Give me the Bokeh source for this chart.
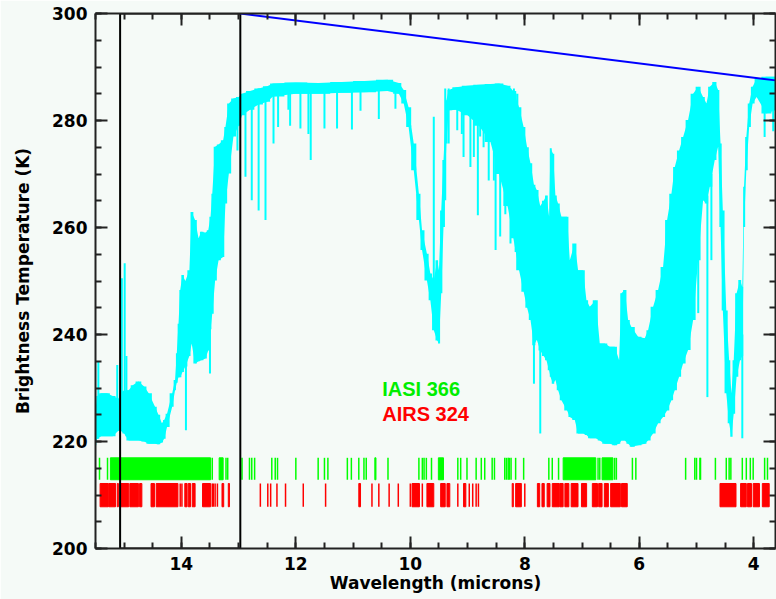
import numpy as np
from bokeh.plotting import figure
from bokeh.models import Range1d, LinearAxis, FixedTicker
from bokeh.core.properties import value
from bokeh.embed import file_html
from bokeh.resources import INLINE

# ---------------- data ----------------
# spectrum envelope: wavelength (microns), upper / lower brightness temperature (K)
spec_wl = [15.50, 15.47, 15.40, 15.30, 15.20, 15.10, 15.06, 15.00, 14.92, 14.85, 14.75, 14.65,
           14.57, 14.46, 14.40, 14.34, 14.30, 14.25, 14.16, 14.11, 14.08, 14.05, 14.02, 13.98,
           13.93, 13.86, 13.82, 13.76, 13.70, 13.65, 13.58, 13.53, 13.49, 13.46, 13.41, 13.35,
           13.27, 13.23, 13.17, 13.09, 13.00, 12.94, 12.80, 12.65, 12.50, 12.40, 12.00, 11.60,
           11.20, 10.80, 10.40, 10.20, 10.115, 10.03, 9.94, 9.85, 9.795, 9.71, 9.65, 9.59,
           9.53, 9.50, 9.46, 9.42, 9.37, 9.33, 9.20, 9.00, 8.80, 8.60, 8.45, 8.30,
           8.20, 8.10, 8.02, 7.96, 7.90, 7.84, 7.79, 7.73, 7.67,
           7.622, 7.575, 7.552, 7.506, 7.465, 7.418, 7.360, 7.261, 7.214, 7.127, 7.069, 6.981,
           6.923, 6.865, 6.760, 6.690, 6.603, 6.515, 6.428, 6.352, 6.312, 6.253, 6.195, 6.137,
           6.020, 5.904, 5.846, 5.758, 5.671, 5.584, 5.514, 5.438, 5.380, 5.304, 5.234, 5.147,
           5.059, 4.972, 4.885, 4.826, 4.768, 4.681, 4.622,
           4.58, 4.54, 4.48, 4.43, 4.39, 4.35, 4.30, 4.24, 4.20,
           4.17, 4.13, 4.08, 4.02, 3.95, 3.78, 3.60]
spec_hi = [226.0, 228.5, 229.0, 229.0, 228.5, 228.0, 229.0, 229.5, 229.6, 230.5, 231.2, 230.3,
           229.0, 226.5, 225.0, 223.4, 224.0, 225.2, 229.0, 231.5, 236.5, 242.0, 248.3, 251.1,
           250.0, 252.0, 262.9, 261.4, 258.0, 259.2, 259.0, 259.5, 262.0, 266.3, 275.1, 275.5,
           276.3, 278.8, 283.2, 284.1, 284.4, 285.0, 285.5, 286.0, 286.4, 286.9, 287.1, 287.0,
           287.2, 287.4, 287.6, 287.0, 285.7, 282.5, 275.7, 266.3, 259.5, 255.1, 251.4, 250.2,
           253.9, 252.0, 263.2, 272.6, 283.8, 285.7, 286.2, 286.5, 286.7, 286.8, 286.9, 286.5,
           285.5, 282.5, 278.8, 275.0, 272.0, 268.0, 267.0, 264.0, 265.0,
           266.0, 262.0, 274.8, 273.8, 266.0, 264.5, 262.0, 262.0, 253.9, 257.0, 252.0, 252.0,
           246.4, 245.2, 246.4, 238.3, 238.3, 237.7, 237.7, 235.2, 247.7, 248.3, 242.7, 241.4,
           239.6, 239.3, 240.8, 245.2, 248.3, 252.6, 261.4, 266.3, 271.3, 274.4, 276.9, 280.1,
           285.0, 286.3, 284.4, 283.2, 286.3, 287.2, 285.7,
           275.7, 263.2, 244.5, 235.2, 229.0, 235.2, 247.7, 250.2, 248.9,
           267.6, 276.9, 283.2, 286.3, 287.8, 288.2, 288.2]
spec_lo = [219.3, 220.5, 221.0, 221.0, 221.0, 222.0, 222.0, 221.5, 220.2, 220.2, 220.2, 220.0,
           219.6, 219.6, 219.5, 219.8, 220.5, 222.7, 226.5, 229.6, 231.0, 232.0, 232.0, 233.0,
           234.0, 236.0, 238.3, 234.6, 235.0, 235.2, 235.5, 237.0, 241.0, 243.9, 250.1, 253.9,
           254.5, 264.5, 270.1, 277.0, 279.0, 281.0, 282.0, 283.0, 283.5, 284.5, 285.0, 285.0,
           285.2, 285.3, 285.5, 285.0, 283.2, 278.8, 270.7, 261.4, 255.8, 250.1, 246.4, 240.8,
           238.9, 238.3, 247.7, 260.1, 275.7, 281.9, 282.0, 281.0, 279.0, 276.0, 270.0, 264.0,
           258.0, 252.0, 248.0, 245.0, 242.7, 238.0, 239.0, 237.0, 236.0,
           235.2, 233.3, 232.1, 230.8, 231.5, 229.6, 227.7, 225.8, 224.6, 224.0, 221.5, 221.5,
           221.2, 220.6, 220.6, 220.2, 219.6, 219.6, 219.3, 219.6, 220.2, 220.2, 219.6, 219.0,
           219.3, 219.6, 220.2, 221.5, 223.4, 224.6, 225.8, 227.7, 229.6, 232.1, 234.6, 237.1,
           242.7, 253.9, 265.1, 264.5, 267.6, 272.6, 275.1,
           260.1, 244.5, 229.0, 223.4, 220.9, 225.2, 232.1, 235.2, 236.0,
           260.1, 270.7, 278.8, 283.2, 284.4, 281.3, 282.0]

# single-channel spikes: wavelength, bottom, top (K)
spike_wl = [15.45, 15.12, 15.04, 14.99, 14.96, 13.92, 13.50, 13.02, 12.88, 12.77, 12.65, 12.53,
            12.39, 12.31, 12.13, 12.10, 11.92, 11.78, 11.74, 11.50, 11.28, 11.02, 10.87, 10.55,
            10.26, 9.59, 9.39, 9.33, 9.18, 9.10, 9.07, 8.95, 8.89, 8.82, 8.78, 8.72,
            8.63, 8.54, 8.51, 8.43, 8.34, 8.28, 8.25, 8.19, 8.16, 8.13, 7.84, 7.73,
            4.97, 4.81, 4.74, 4.20, 3.81, 3.66]
spike_bot = [221.0, 222.0, 222.0, 222.0, 221.0, 222.1, 232.7, 274.4, 269.5, 265.1, 263.2, 261.4,
             275.7, 278.8, 282.0, 279.0, 278.5, 277.5, 272.6, 278.5, 278.5, 278.3, 281.8, 280.3,
             282.2, 245.0, 265.1, 275.7, 278.2, 277.5, 273.2, 271.3, 273.2, 262.3, 277.0, 275.0,
             268.8, 268.8, 255.8, 258.3, 262.5, 263.8, 257.0, 262.0, 255.4, 263.0, 230.8, 221.5,
             244.0, 228.3, 253.9, 220.6, 276.9, 278.0]
spike_top = [235.0, 234.3, 250.5, 253.3, 236.0, 240.0, 245.0, 284.0, 285.0, 285.0, 286.0, 286.0,
             286.0, 286.5, 287.0, 287.0, 287.0, 287.0, 287.0, 287.0, 287.0, 287.0, 287.0, 287.0,
             287.0, 280.7, 286.0, 286.0, 286.0, 286.0, 286.0, 286.0, 286.0, 286.0, 286.0, 286.0,
             286.0, 286.0, 286.0, 286.0, 286.0, 286.0, 286.0, 286.0, 285.0, 285.0, 240.0, 240.0,
             260.0, 266.0, 270.0, 240.0, 285.0, 285.0]

# selected channels (wavelength, microns)
iasi_band_start = [15.24, 13.34, 10.62, 9.51, 7.33, 6.65]
iasi_band_end = [13.49, 13.27, 10.60, 9.42, 6.76, 6.46]
iasi_lines = [15.43, 15.29, 13.46, 13.22, 13.19, 12.94, 12.81, 12.77, 12.72, 12.42, 12.36, 12.32,
              12.00, 11.61, 11.50, 11.44, 11.10, 11.03, 10.90, 10.81, 10.77, 10.39, 9.85, 9.79,
              9.76, 9.72, 9.63, 9.17, 9.12, 9.01, 8.85, 8.76, 8.70, 8.57, 8.53, 8.35,
              8.32, 8.29, 8.27, 8.24, 8.16, 8.02, 7.58, 7.52, 7.41, 6.72, 6.69, 6.43,
              6.40, 6.12, 6.06, 5.19, 5.03, 5.00, 4.94, 4.93, 4.67, 4.48, 4.43, 4.40,
              4.20, 4.13, 4.06, 4.01, 3.81, 3.76]
airs_band_start = [15.42, 15.27, 15.12, 15.07, 14.90, 14.73, 14.53, 14.44, 13.94, 13.88, 13.81,
                   13.63, 13.29, 13.18, 10.90, 9.97, 9.71, 9.47, 9.36, 9.07, 8.22, 8.16,
                   7.78, 7.70, 7.61, 7.52, 7.39, 7.30, 7.19, 7.01, 6.82, 6.71, 6.61,
                   6.50, 6.31, 4.59, 4.23, 4.11, 4.01, 3.85]
airs_band_end = [15.28, 15.15, 15.10, 14.92, 14.75, 14.69, 14.47, 14.06, 13.90, 13.84, 13.76,
                 13.49, 13.26, 13.16, 10.87, 9.84, 9.59, 9.39, 9.31, 9.03, 8.20, 8.06,
                 7.74, 7.66, 7.56, 7.40, 7.33, 7.23, 7.07, 6.92, 6.73, 6.65, 6.54,
                 6.33, 6.21, 4.31, 4.13, 4.04, 3.90, 3.73]
airs_lines = [14.02, 13.99, 13.46, 13.44, 13.41, 13.37, 12.62, 12.49, 12.44, 12.33, 12.18, 11.87,
              11.48, 10.67, 10.55, 10.37, 10.21, 10.00, 9.79, 9.17, 8.97, 8.91, 8.85, 8.81, 8.00]

# rows of the channel marks (K)
iasi_row = [212.85, 216.95]
airs_row = [207.8, 212.15]

label_text = ["IASI 366", "AIRS 324"]
label_x = [10.49, 10.49]
label_y = [229.9, 225.2]
label_color = ["#00ee00", "#ff0000"]

# zoom box (wavelength / K) and connector line
box_wl = [15.07, 12.97]
box_bt = [200.0, 300.0]
conn1_wl = [12.97, 3.62]
conn1_bt = [300.0, 287.5]

x_major = [4, 6, 8, 10, 12, 14]
y_major = [200, 220, 240, 260, 280, 300]

# ---------------- figure ----------------
BG = "#f5faf7"
FONT = "DejaVu Sans"
CYAN = "#00ffff"

p = figure(width=776, height=599, output_backend="svg", toolbar_location=None,
           x_range=Range1d(15.5, 3.62), y_range=Range1d(200, 300),
           min_border_left=95, min_border_right=1, min_border_top=13, min_border_bottom=51,
           background_fill_color=BG, border_fill_color=BG, outline_line_color=None)
p.xgrid.visible = False
p.ygrid.visible = False

# spectrum: smooth envelope plus channel-step envelope
p.varea(x=spec_wl, y1=spec_lo, y2=spec_hi, fill_color=CYAN)
if hasattr(p, "varea_step"):
    p.varea_step(x=spec_wl, y1=spec_lo, y2=spec_hi, step_mode="center", fill_color=CYAN)
p.segment(x0=spike_wl, y0=spike_bot, x1=spike_wl, y1=spike_top, line_color=CYAN, line_width=2)

# channel marks
p.quad(left=iasi_band_start, right=iasi_band_end, bottom=iasi_row[0], top=iasi_row[1],
       fill_color="#00ff00", line_color="#00ff00", line_width=1)
p.segment(x0=iasi_lines, y0=iasi_row[0], x1=iasi_lines, y1=iasi_row[1], line_color="#00ff00", line_width=1.5)
p.quad(left=airs_band_start, right=airs_band_end, bottom=airs_row[0], top=airs_row[1],
       fill_color="#ff0000", line_color="#ff0000", line_width=1)
p.segment(x0=airs_lines, y0=airs_row[0], x1=airs_lines, y1=airs_row[1], line_color="#ff0000", line_width=1.5)

# labels
p.text(x=label_x, y=label_y, text=label_text, text_color=label_color,
       text_font=value("Liberation Sans"), text_font_style="bold", text_font_size="20px",
       text_baseline="alphabetic", text_align="left")

# zoom box and connector line
p.quad(left=box_wl[0], right=box_wl[1], bottom=box_bt[0], top=box_bt[1],
       fill_alpha=0, line_color="black", line_width=2)
p.line(x=conn1_wl, y=conn1_bt, line_color="#0000ff", line_width=2)

# axes
def style(ax, labels=True):
    ax.axis_line_color = "#222222"
    ax.axis_line_width = 2
    ax.major_tick_line_color = "#222222"
    ax.minor_tick_line_color = "#222222"
    ax.major_tick_line_width = 2
    ax.minor_tick_line_width = 2
    ax.major_tick_in = 12
    ax.major_tick_out = 0
    ax.minor_tick_in = 6
    ax.minor_tick_out = 0
    if labels:
        ax.major_label_text_font = FONT
        ax.major_label_text_font_style = "bold"
        ax.major_label_text_font_size = "17px"
        ax.major_label_text_color = "black"
        ax.major_label_standoff = 8
        ax.axis_label_text_font = FONT
        ax.axis_label_text_font_style = "bold"
        ax.axis_label_text_font_size = "17px"
        ax.axis_label_text_color = "black"
    else:
        ax.major_label_standoff = 0

xt = FixedTicker(ticks=x_major, minor_ticks=list(np.arange(3.5, 15.51, 0.5)))
yt = FixedTicker(ticks=y_major, minor_ticks=list(range(200, 301, 5)))

xax = p.xaxis[0]
yax = p.yaxis[0]
xax.ticker = xt
yax.ticker = yt
xax.axis_label = "Wavelength (microns)"
yax.axis_label = "Brightness Temperature (K)"
style(xax)
style(yax)
xax.axis_label_standoff = 0
yax.axis_label_standoff = 16

top_ax = LinearAxis(ticker=xt, major_label_overrides={t: "" for t in x_major})
right_ax = LinearAxis(ticker=yt, major_label_overrides={t: "" for t in y_major})
style(top_ax, labels=False)
style(right_ax, labels=False)
p.add_layout(top_ax, "above")
p.add_layout(right_ax, "right")

open("out.html", "w").write(file_html(p, INLINE))
